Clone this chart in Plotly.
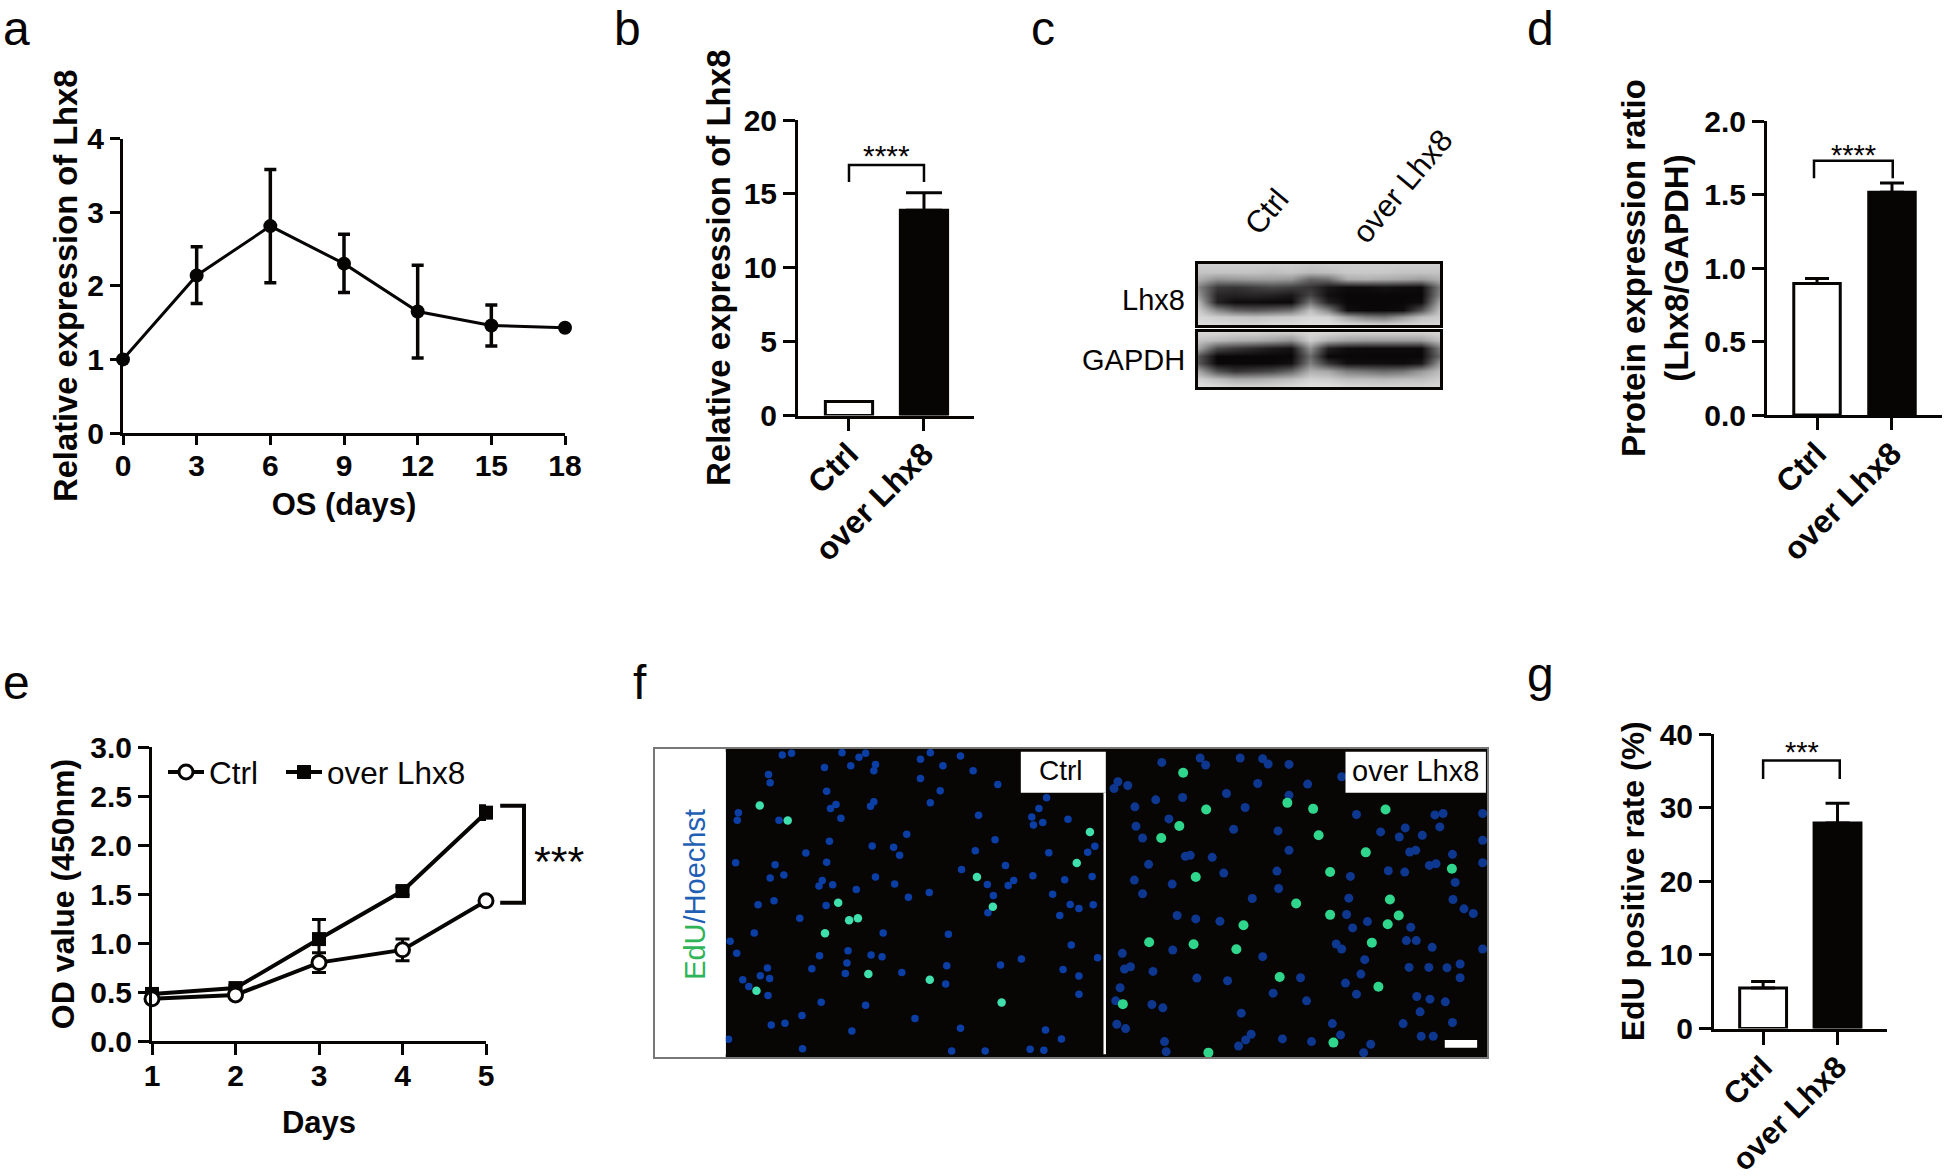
import plotly.graph_objects as go

W, H = 1946, 1176
INK = "#070404"
SANS = "Liberation Sans"

# ---------- panel a ----------
a_days = [0, 3, 6, 9, 12, 15, 18]
a_mean = [1.0, 2.14, 2.81, 2.30, 1.65, 1.46, 1.43]
a_err_up = [0, 0.39, 0.77, 0.40, 0.63, 0.28, 0]
a_err_dn = [0, 0.38, 0.77, 0.39, 0.63, 0.28, 0]

# ---------- bars ----------
groups = ["Ctrl", "over Lhx8"]
b_vals = [0.95, 13.9]
b_err = [0, 1.17]
d_vals = [0.895, 1.515]
d_err = [0.033, 0.063]
g_vals = [5.5, 27.9]
g_err = [0.9, 2.7]

b_bracket_x, b_bracket_y = [0, 0, 1, 1], [15.8, 16.95, 16.95, 15.8]
d_bracket_x, d_bracket_y = [-0.04, -0.04, 1.01, 1.01], [1.61, 1.729, 1.729, 1.61]
g_bracket_x, g_bracket_y = [0, 0, 1.03, 1.03], [33.9, 36.4, 36.4, 33.9]

# ---------- panel e ----------
e_days = [1, 2, 3, 4, 5]
e_ctrl = [0.43, 0.47, 0.80, 0.93, 1.43]
e_ctrl_err = [0.03, 0.03, 0.10, 0.11, 0.02]
e_over = [0.48, 0.54, 1.04, 1.53, 2.33]
e_over_err = [0.03, 0.03, 0.20, 0.04, 0.07]
e_bracket_x, e_bracket_y = [5.17, 5.455, 5.455, 5.17], [2.40, 2.40, 1.41, 1.41]

# ---------- panel c : blot densities ----------
blot_top = [
    [205,205,205,205,205,205,200,205,205,205,205,205,205,205],
    [195,195,195,195,190,195,185,190,200,200,200,195,195,195],
    [175,145,150,155,155,150,100,110,170,175,170,165,155,175],
    [130,55,50,60,70,60,50,20,8,10,15,10,8,125],
    [150,35,30,35,30,20,65,12,4,4,4,4,4,135],
    [185,30,8,8,6,6,115,30,4,4,4,4,10,170],
    [205,135,95,85,95,110,190,130,12,4,4,10,80,195],
    [215,205,200,195,200,205,215,210,165,130,120,155,190,205],
    [220,220,215,215,220,220,225,225,220,220,215,215,215,215],
]
blot_bottom = [
    [215,215,210,210,205,205,215,215,210,210,210,210,210,215],
    [195,185,175,170,160,145,205,175,160,155,155,155,155,190],
    [165,75,55,40,25,15,145,30,10,8,8,8,8,125],
    [85,4,4,4,4,4,105,4,4,4,4,4,4,105],
    [85,4,4,4,4,12,125,50,10,10,10,8,20,155],
    [165,80,50,60,70,100,175,165,125,115,105,115,150,190],
    [210,190,170,170,180,190,210,205,190,190,185,190,190,205],
    [225,220,215,215,215,220,225,225,220,215,215,215,215,215],
]

# ---------- panel f : nuclei positions ----------
f_ctrl_blue = [(260,75),(277,70),(369,68),(400,82),(412,70),(530,68),(585,78),(512,88),(385,107),(430,103),(337,112),(427,122),(553,107),(608,122),(235,133),
(238,158),(512,145),(653,163),(341,183),(548,182),(742,203),(427,215),(358,223),(421,228),(348,235),(530,218),(728,235),(180,248),(178,270),(254,270),(367,264),(618,255),(715,260),(781,267),(735,277),(718,284),
(487,312),(346,333),(648,328),(424,347),(463,351),(830,348),(612,361),(303,368),(474,375),(746,367),(817,366),(175,397),(341,396),(247,403),(587,417),(667,405),
(238,443),(263,434),(333,450),(430,440),(717,436),(825,438),(775,448),(327,467),(352,463),(465,461),(634,462),(682,450),(672,465),(395,477),(528,486),(645,495),(753,491),(490,500),
(245,511),(216,523),(340,525),(785,522),(801,534),(827,523),(635,547),(766,555),(292,563),(209,607),(444,607),(563,611),(165,632),(787,643),(177,668),(380,660),(328,675),(422,673),(442,678),(835,681),(696,685),(378,697),(658,703),(560,705),(233,712),(314,714),(478,725),(375,728),(772,716),(220,735),(237,743),(188,747),(801,736),(558,760),(199,767),(234,794),(801,790),(331,814),(412,823),(296,854),(240,882),(265,877),(502,863),(585,892),(387,900),(740,897),(162,925),(769,924),(297,953),(569,960),(630,960),(712,955),(737,958)]
f_ctrl_green = [(219,226),(270,271),(821,305),(797,398),(615,440),(362,517),(644,529),(398,563),(382,569),(338,608),(417,730),(529,747),(660,815),(213,780)]
f_over_blue = [(952,97),(1022,84),(1032,105),(1095,84),(1136,86),(1146,102),(1184,103),(872,155),(865,175),(890,166),(1127,160),(1218,162),(1280,140),(1070,190),(1184,195),(990,202),(941,209),(903,230),(1104,232),(1307,253),(1450,254),(1465,250),(1537,250),(965,266),(905,288),(1083,297),(1164,302),(1396,293),(1459,290),(1351,305),(1385,320),(1427,315),(917,323),(1537,330),(1184,360),(1404,365),(1415,360),(995,378),(1004,375),(1044,381),(1482,372),(928,402),(1440,405),(1452,400),(1537,397),(1162,422),(1065,428),(1365,421),(1395,425),(1296,438),(902,449),(971,461),(1487,456),(1165,474),(917,490),(1293,503),(1117,504),(1483,507),(1503,535),(1520,549),(980,555),(1289,552),(1014,565),(1058,572),(1327,573),(1300,592),(1406,590),(1398,630),(1416,630),(1270,640),(1280,655),(1445,650),(880,668),(972,658),(1136,678),(1322,687),(1537,655),(1403,710),(1439,710),(1472,711),(1496,700),(895,708),(884,715),(936,722),(1016,742),(1072,750),(1205,741),(1287,757),(1315,730),(1496,741),(876,771),(1155,787),(1307,790),(1417,797),(1441,805),(1469,813),(868,810),(934,821),(954,831),(1216,810),(1423,843),(1097,847),(1392,878),(1482,875),(1263,878),(870,880),(886,893),(1115,910),(1105,927),(1172,924),(1225,932),(1278,912),(1333,940),(1425,916),(1447,916),(957,932),(1092,945),(960,962),(1320,965)]
f_over_green = [(991,128),(1033,238),(1181,218),(1228,236),(1360,238),(984,287),(951,323),(1238,315),(1324,366),(1481,415),(1259,425),(1014,440),(1368,507),(1197,519),(1259,553),(1384,555),(1364,581),(1101,584),(1335,636),(929,635),(1010,641),(1088,656),(1167,739),(1347,768),(881,820),(1265,935),(1037,965)]


def dx(x0, x1):
    return [x0 / W, x1 / W]


def dy(y_top, y_bottom):
    return [1 - y_bottom / H, 1 - y_top / H]


def bold(size):
    return dict(family=SANS, size=size, color=INK, weight=700)


def reg(size, color=INK):
    return dict(family=SANS, size=size, color=color)


def axis_common(tick=10, tick_size=30, **kw):
    return dict(showgrid=False, zeroline=False, showline=True, linecolor=INK, linewidth=3, automargin=False,
                ticks="outside", ticklen=tick, tickwidth=3, tickcolor=INK, tickfont=bold(tick_size), **kw)


def frame(col=INK, width=3):
    return dict(showticklabels=False, ticks="", showline=True, mirror=True, linecolor=col, linewidth=width,
                showgrid=False, zeroline=False, automargin=False)


fig = go.Figure()

# panel a
fig.add_trace(go.Scatter(x=a_days, y=a_mean, mode="lines+markers", xaxis="x", yaxis="y", showlegend=False,
                         cliponaxis=False, line=dict(color=INK, width=3), marker=dict(color=INK, size=14),
                         error_y=dict(type="data", array=a_err_up, arrayminus=a_err_dn, color=INK, thickness=3.5, width=6)))


def bars(vals, errs, xa, ya, cap, bar_w, bx, by):
    fig.add_trace(go.Bar(x=[0, 1], y=vals, xaxis=xa, yaxis=ya, width=bar_w, showlegend=False, cliponaxis=False,
                         marker=dict(color=["white", INK], line=dict(color=INK, width=3)),
                         error_y=dict(type="data", array=errs, arrayminus=[0, 0], color=INK, thickness=3, width=cap)))
    fig.add_trace(go.Scatter(x=bx, y=by, xaxis=xa, yaxis=ya, mode="lines", showlegend=False, cliponaxis=False,
                             line=dict(color=INK, width=2.5)))


bars(b_vals, b_err, "x2", "y2", 18, 0.63, b_bracket_x, b_bracket_y)
bars(d_vals, d_err, "x5", "y5", 12, 0.62, d_bracket_x, d_bracket_y)
bars(g_vals, g_err, "x8", "y8", 12, 0.63, g_bracket_x, g_bracket_y)

# panel c blots
for z, xa, ya in ((blot_top, "x3", "y3"), (blot_bottom, "x4", "y4")):
    fig.add_trace(go.Heatmap(z=z, x=list(range(14)), y=list(range(len(z))), xaxis=xa, yaxis=ya, showscale=False,
                             zmin=0, zmax=255, zsmooth="best", colorscale=[[0, "#050303"], [1, "#ffffff"]],
                             hoverinfo="skip"))

# panel e
fig.add_trace(go.Scatter(x=e_days, y=e_over, name="over Lhx8", legend="legend2", xaxis="x6", yaxis="y6",
                         mode="lines+markers", cliponaxis=False, line=dict(color=INK, width=4),
                         marker=dict(symbol="square", size=14, color=INK),
                         error_y=dict(type="data", array=e_over_err, color=INK, thickness=3, width=7)))
fig.add_trace(go.Scatter(x=e_days, y=e_ctrl, name="Ctrl", legend="legend", xaxis="x6", yaxis="y6",
                         mode="lines+markers", cliponaxis=False, line=dict(color=INK, width=4),
                         marker=dict(symbol="circle", size=14, color="white", line=dict(color=INK, width=3)),
                         error_y=dict(type="data", array=e_ctrl_err, color=INK, thickness=3, width=7)))
# hidden twin axes that carry the same day scale past day 5, for the significance bracket
fig.add_trace(go.Scatter(x=e_bracket_x, y=e_bracket_y, xaxis="x9", yaxis="y9", mode="lines", showlegend=False,
                         cliponaxis=False, line=dict(color=INK, width=4)))

# panel f
for pts, col, size in ((f_ctrl_blue, "#0b3fa6", 7.5), (f_over_blue, "#0e378f", 9),
                       (f_ctrl_green, "#3fe0ae", 8.5), (f_over_green, "#2fd68c", 10)):
    fig.add_trace(go.Scatter(x=[p[0] for p in pts], y=[p[1] for p in pts], xaxis="x7", yaxis="y7", mode="markers",
                             showlegend=False, marker=dict(color=col, size=size, line=dict(width=0))))


def legend_at(px):
    return dict(orientation="h", x=px / W, y=1 - 772 / H, xanchor="left", yanchor="middle",
                bgcolor="rgba(0,0,0,0)", font=reg(31.5), itemwidth=36, itemclick=False)


layout = dict(width=W, height=H, margin=dict(l=0, r=0, t=0, b=0), paper_bgcolor="white", plot_bgcolor="rgba(0,0,0,0)",
              showlegend=True, font=reg(28), legend=legend_at(163), legend2=legend_at(281))

# a
layout["xaxis"] = dict(axis_common(9, ticklabelstandoff=-5), domain=dx(123, 565), range=[0, 18], tickvals=a_days, anchor="y",
                       title=dict(text="OS (days)", font=bold(31), standoff=13))
layout["yaxis"] = dict(axis_common(10), domain=dy(138.5, 433), range=[0, 4], tickvals=[0, 1, 2, 3, 4], anchor="x",
                       title=dict(text="Relative expression of Lhx8", font=bold(32.7), standoff=0))
# b
layout["xaxis2"] = dict(axis_common(12, 32, ticklabelstandoff=-8), domain=dx(798, 974), range=[-0.68, 1.667], tickvals=[0, 1],
                        ticktext=groups, tickangle=-45, anchor="y2")
layout["yaxis2"] = dict(axis_common(12), domain=dy(120, 415.5), range=[0, 20], tickvals=[0, 5, 10, 15, 20], anchor="x2",
                        title=dict(text="Relative expression of Lhx8", font=bold(33), standoff=4))
# c
layout["xaxis3"] = dict(frame(), domain=dx(1198, 1440), range=[0, 13], anchor="y3")
layout["yaxis3"] = dict(frame(), domain=dy(264, 325), range=[8, 0], anchor="x3")
layout["xaxis4"] = dict(frame(), domain=dx(1198, 1440), range=[0, 13], anchor="y4")
layout["yaxis4"] = dict(frame(), domain=dy(332, 387), range=[7, 0], anchor="x4")
# d
layout["xaxis5"] = dict(axis_common(12, 32, ticklabelstandoff=-8), domain=dx(1767, 1942), range=[-0.667, 1.667], tickvals=[0, 1],
                        ticktext=groups, tickangle=-45, anchor="y5")
layout["yaxis5"] = dict(axis_common(12), domain=dy(121, 415), range=[0, 2], tickvals=[0, 0.5, 1, 1.5, 2],
                        tickformat=".1f", anchor="x5",
                        title=dict(text="Protein expression ratio<br>(Lhx8/GAPDH)", font=bold(33), standoff=6))
# e
layout["xaxis6"] = dict(axis_common(11, ticklabelstandoff=-5), domain=dx(152, 486), range=[1, 5], tickvals=e_days, anchor="y6",
                        title=dict(text="Days", font=bold(31), standoff=21))
layout["yaxis6"] = dict(axis_common(11), domain=dy(747, 1041), range=[0, 3], tickvals=[0, 0.5, 1, 1.5, 2, 2.5, 3],
                        tickformat=".1f", anchor="x6",
                        title=dict(text="OD value (450nm)", font=bold(32), standoff=7))
layout["xaxis9"] = dict(domain=dx(152, 653), range=[1, 7], anchor="y9", visible=False, automargin=False)
layout["yaxis9"] = dict(domain=dy(747, 1041), range=[0, 3], anchor="x9", visible=False, automargin=False)
# f
layout["xaxis7"] = dict(frame("#777777", 2), domain=dx(655, 1487), range=[28, 1545], anchor="y7")
layout["yaxis7"] = dict(frame("#777777", 2), domain=dy(749, 1057), range=[978, 57], anchor="x7")
# g
layout["xaxis8"] = dict(axis_common(13, 31, ticklabelstandoff=-8), domain=dx(1714, 1887), range=[-0.66, 1.665], tickvals=[0, 1],
                        ticktext=groups, tickangle=-45, anchor="y8")
layout["yaxis8"] = dict(axis_common(12), domain=dy(734, 1028.5), range=[0, 40], tickvals=[0, 10, 20, 30, 40], anchor="x8",
                        title=dict(text="EdU positive rate (%)", font=bold(32), standoff=6))

fig.update_layout(**layout)

NOLINE = dict(width=0)
FIELD = "#080505"
fig.add_shape(type="rect", xref="x7", yref="y7", x0=157, x1=1545, y0=57, y1=978, fillcolor=FIELD, line=NOLINE, layer="below")
fig.add_shape(type="rect", xref="x7", yref="y7", x0=33, x1=157, y0=65, y1=970, fillcolor="white", line=NOLINE, layer="above")
fig.add_shape(type="rect", xref="x7", yref="y7", x0=695, x1=850, y0=65, y1=188, fillcolor="white", line=NOLINE, layer="above")
fig.add_shape(type="rect", xref="x7", yref="y7", x0=1287, x1=1543, y0=65, y1=188, fillcolor="white", line=NOLINE, layer="above")
fig.add_shape(type="line", xref="x7", yref="y7", x0=848, x1=848, y0=188, y1=970, line=dict(color="white", width=2.5), layer="above")
fig.add_shape(type="rect", xref="x7", yref="y7", x0=1468, x1=1527, y0=927, y1=950, fillcolor="white", line=NOLINE, layer="above")


def note(text, x, y, font, xref="paper", yref="paper", angle=0, xanchor="center"):
    fig.add_annotation(text=text, x=x, y=y, xref=xref, yref=yref, showarrow=False, font=font, textangle=angle,
                       xanchor=xanchor, yanchor="middle")


for letter, px, py in (("a", 16, 28), ("b", 627, 28), ("c", 1043, 28), ("d", 1540, 28),
                       ("e", 16, 682), ("f", 640, 682), ("g", 1540, 674)):
    note(letter, px / W, 1 - py / H, reg(48))

note("****", 0.5, 17.6, reg(30), "x2", "y2")
note("****", 0.49, 1.77, reg(29), "x5", "y5")
note("***", 0.52, 37.5, reg(29), "x8", "y8")
note("***", 5.88, 1.84, reg(43), "x9", "y9")

note("Lhx8", 1187 / W, 1 - 300 / H, reg(29), xanchor="right")
note("GAPDH", 1187 / W, 1 - 360 / H, reg(29), xanchor="right")
note("Ctrl", 1267 / W, 1 - 212 / H, reg(31), angle=-50)
note("over Lhx8", 1402 / W, 1 - 186 / H, reg(31), angle=-50)

note('<span style="color:#2fb457">EdU</span><span style="color:#1f5fb4">/Hoechst</span>', 101, 493,
     reg(29), "x7", "y7", angle=-90)
note("Ctrl", 768, 122, reg(28), "x7", "y7")
note("over Lhx8", 1415, 122, reg(29), "x7", "y7")

fig.write_html("out.html", config={"displayModeBar": False},
               post_script="document.body.style.margin='0';document.body.style.overflow='hidden';")
